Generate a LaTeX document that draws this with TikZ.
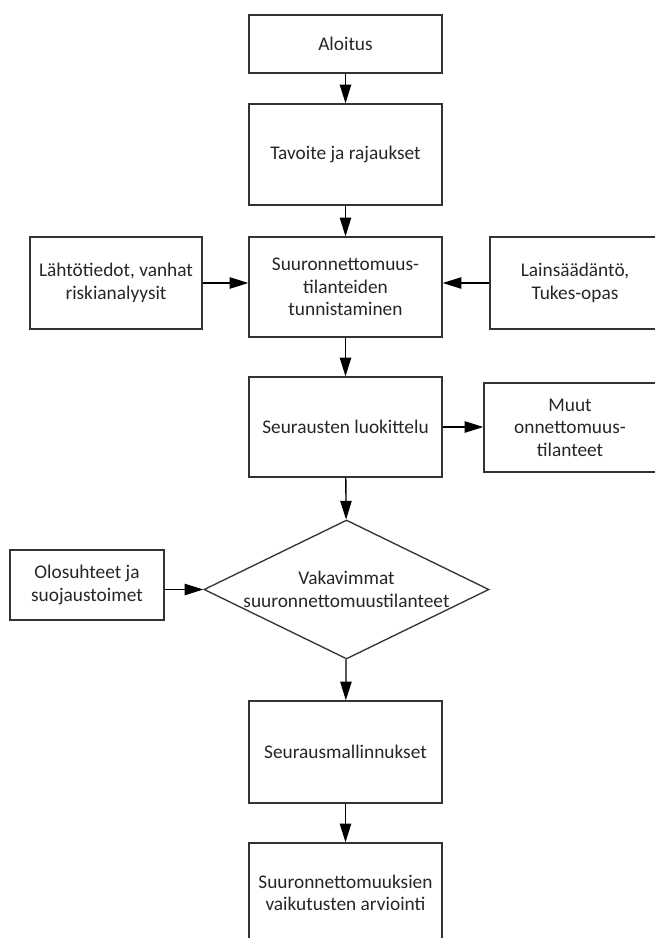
\documentclass[tikz,border=0pt]{standalone}
\usepackage{fontspec}
\setmainfont{Carlito}
\usetikzlibrary{arrows.meta,shapes.geometric}

\begin{document}
\begin{tikzpicture}[
  x=0.75pt, y=-0.75pt, >={Triangle[length=14pt,width=8.5pt]},
  font=\fontsize{14.5pt}{16.9pt}\selectfont, text=black!85,
  box/.style={draw=black!80, line width=1pt, align=center, inner sep=2pt},
  flow/.style={->, draw=black, line width=1pt},
  dia/.style={draw=black!80, line width=1pt, diamond, inner sep=0pt}
]
  \useasboundingbox (0,0) rectangle (654,938);
  \def\xm{345.5}
  % main column
  \node[box, minimum width=193*0.75pt, minimum height=58*0.75pt] (alo) at (\xm,44) {Aloitus};
  \node[box, minimum width=193*0.75pt, minimum height=101*0.75pt] (tav) at (\xm,154.5) {Tavoite ja rajaukset};
  \node[box, minimum width=193*0.75pt, minimum height=100*0.75pt] (tun) at (\xm,287) {Suuronnettomuus-\\tilanteiden\\tunnistaminen};
  \node[box, minimum width=193*0.75pt, minimum height=100*0.75pt] (luo) at (\xm,427) {Seurausten luokittelu};
  \node[dia, minimum width=285*0.75pt, minimum height=139*0.75pt,
        label={[align=center]center:{Vakavimmat\\suuronnettomuustilanteet}}] (vak) at (346.5,589.5) {};
  \node[box, minimum width=193*0.75pt, minimum height=102*0.75pt] (mal) at (\xm,752) {Seurausmallinnukset};
  \node[box, minimum width=193*0.75pt, minimum height=100*0.75pt] (arv) at (\xm,893) {Suuronnettomuuksien\\vaikutusten arviointi};
  % side inputs and outputs
  \node[box, minimum width=172*0.75pt, minimum height=92*0.75pt] (lah) at (116,283) {Lähtötiedot, vanhat\\riskianalyysit};
  \node[box, minimum width=170*0.75pt, minimum height=92*0.75pt] (lai) at (575,283) {Lainsäädäntö,\\Tukes-opas};
  \node[box, minimum width=172*0.75pt, minimum height=89*0.75pt] (muu) at (570,427.5) {Muut\\onnettomuus-\\tilanteet};
  \node[box, minimum width=154*0.75pt, minimum height=70*0.75pt] (olo) at (87,585) {Olosuhteet ja\\suojaustoimet};
  % connectors
  \draw[flow] (alo) -- (tav);
  \draw[flow] (tav) -- (tun);
  \draw[flow] (tun) -- (luo);
  \draw[flow] (luo) -- (vak);
  \draw[flow] (vak) -- (mal);
  \draw[flow] (mal) -- (arv);
  \draw[flow] (lah.east) -- (lah.east -| tun.west);
  \draw[flow] (lai.west) -- (lai.west -| tun.east);
  \draw[flow] (luo.east) -- (luo.east -| muu.west);
  \draw[flow] (olo.east |- vak.west) -- (vak.west);
\end{tikzpicture}
\end{document}
